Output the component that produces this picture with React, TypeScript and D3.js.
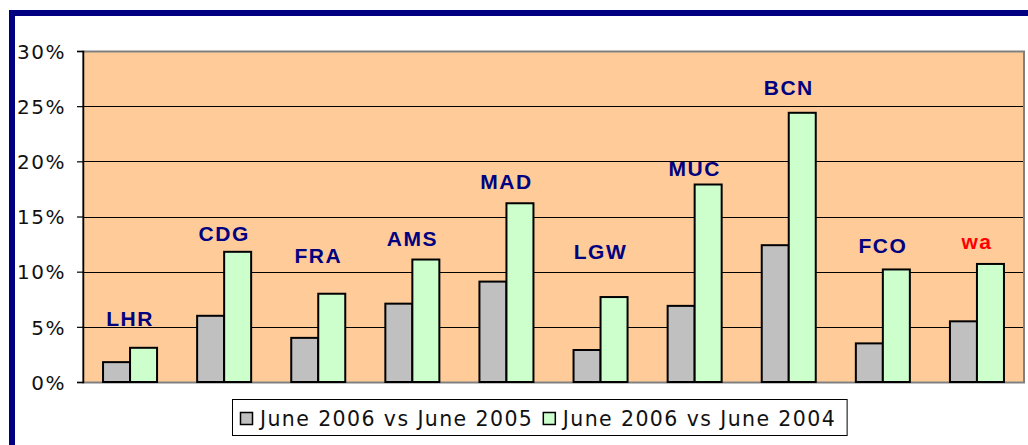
import React, { useEffect, useRef } from 'react'
import * as d3 from 'd3'

// airports and the two growth series (in %)
const airports = ['LHR', 'CDG', 'FRA', 'AMS', 'MAD', 'LGW', 'MUC', 'BCN', 'FCO', 'wa']
const vs2005 = [1.8, 6.0, 4.0, 7.1, 9.1, 2.9, 6.9, 12.4, 3.5, 5.5]
const vs2004 = [3.1, 11.8, 8.0, 11.1, 16.2, 7.7, 17.9, 24.4, 10.2, 10.7]
// level (in %) at which each airport label sits
const labelLevel = [5.8, 13.5, 11.5, 13.0, 18.2, 11.8, 19.4, 26.7, 12.4, 12.7]
const seriesNames = ['June 2006 vs June 2005', 'June 2006 vs June 2004']
const yTicks = [0, 5, 10, 15, 20, 25, 30]

const WIDTH = 1028
const HEIGHT = 445

export default function App() {
  const ref = useRef<SVGSVGElement>(null)

  useEffect(() => {
    const svg = d3.select(ref.current)
    svg.selectAll('*').remove()

    const M = { top: 51, right: 4, bottom: 63, left: 83 }
    const x0 = d3.scaleBand<string>()
      .domain(airports)
      .range([M.left, WIDTH - M.right])
      .paddingInner(0.426)
      .paddingOuter(0.213)
    const x1 = d3.scaleBand<string>().domain(['a', 'b']).range([0, x0.bandwidth()])
    const y = d3.scaleLinear().domain([0, 30]).range([HEIGHT - M.bottom, M.top])

    // outer blue frame
    svg.append('rect')
      .attr('x', 12).attr('y', 13)
      .attr('width', WIDTH + 20).attr('height', HEIGHT + 20)
      .attr('fill', '#fff').attr('stroke', '#000080').attr('stroke-width', 6)

    // plot background
    svg.append('rect')
      .attr('x', M.left).attr('y', M.top)
      .attr('width', WIDTH - M.right - M.left).attr('height', y(0) - M.top)
      .attr('fill', '#FFCC99')

    // gridlines
    svg.append('g').selectAll('line').data(yTicks.filter(t => t > 0 && t < 30)).join('line')
      .attr('x1', M.left).attr('x2', WIDTH - M.right)
      .attr('y1', d => Math.round(y(d)) + 0.5).attr('y2', d => Math.round(y(d)) + 0.5)
      .attr('stroke', '#000').attr('stroke-width', 1)

    // plot border (grey)
    svg.append('rect')
      .attr('x', M.left).attr('y', M.top + 0.5)
      .attr('width', WIDTH - M.right - M.left).attr('height', y(0) - M.top)
      .attr('fill', 'none').attr('stroke', '#808080').attr('stroke-width', 2)

    // y axis
    const yAxis = d3.axisLeft(y).tickValues(yTicks).tickSize(6).tickFormat(d => d + '%')
    const ga = svg.append('g').attr('transform', `translate(${M.left},0)`).call(yAxis)
    ga.select('.domain').attr('stroke', '#000').attr('stroke-width', 1.5)
    ga.selectAll('.tick line').attr('stroke', '#000').attr('stroke-width', 1.2)
    ga.selectAll('.tick text')
      .attr('x', -17).attr('dy', '0.36em')
      .attr('fill', '#111')
      .style('font-family', 'DejaVu Sans, sans-serif')
      .style('font-size', '20px')
      .style('letter-spacing', '1.5px')

    // bars
    const groups = svg.append('g').selectAll('g').data(airports).join('g')
      .attr('transform', d => `translate(${x0(d)},0)`)
    groups.append('rect')
      .attr('x', x1('a')!).attr('width', x1.bandwidth())
      .attr('y', (d, i) => y(vs2005[i])).attr('height', (d, i) => y(0) - y(vs2005[i]))
      .attr('fill', '#C0C0C0').attr('stroke', '#000').attr('stroke-width', 2)
    groups.append('rect')
      .attr('x', x1('b')!).attr('width', x1.bandwidth())
      .attr('y', (d, i) => y(vs2004[i])).attr('height', (d, i) => y(0) - y(vs2004[i]))
      .attr('fill', '#CCFFCC').attr('stroke', '#000').attr('stroke-width', 2)

    // airport labels
    svg.append('g').selectAll('text').data(airports).join('text')
      .attr('x', d => x0(d)! + x0.bandwidth() / 2)
      .attr('y', (d, i) => y(labelLevel[i]))
      .attr('dy', '0.36em')
      .attr('text-anchor', 'middle')
      .attr('fill', d => (d === 'wa' ? '#FF0000' : '#000080'))
      .style('font-family', 'Liberation Sans, Arial, sans-serif')
      .style('font-weight', 'bold')
      .style('font-size', '21px')
      .style('letter-spacing', '1.5px')
      .text(d => d)

    // legend
    const lg = svg.append('g')
    const box = lg.append('rect')
      .attr('x', 232.5).attr('y', 399.5).attr('height', 36)
      .attr('fill', '#fff').attr('stroke', '#000').attr('stroke-width', 1)
    let cx = 240.5
    const colors = ['#C0C0C0', '#CCFFCC']
    seriesNames.forEach((name, i) => {
      lg.append('rect')
        .attr('x', cx).attr('y', 412.5).attr('width', 12).attr('height', 12)
        .attr('fill', colors[i]).attr('stroke', '#000').attr('stroke-width', 1.5)
      const t = lg.append('text')
        .attr('x', cx + 19.5).attr('y', 419).attr('dy', '0.36em')
        .attr('fill', '#111')
        .style('font-family', 'DejaVu Sans, sans-serif')
        .style('font-size', '20.5px')
        .style('letter-spacing', '1.4px')
        .text(name)
      const w = (t.node() as SVGTextElement).getComputedTextLength()
      cx = cx + 19.5 + w + 10
    })
    box.attr('width', cx - 232.5 + 1)
  }, [])

  return (
    <div style={{ position: 'fixed', left: 0, top: 0, width: WIDTH, height: HEIGHT, overflow: 'hidden' }}>
      <svg ref={ref} width={WIDTH} height={HEIGHT} style={{ display: 'block' }} />
    </div>
  )
}
